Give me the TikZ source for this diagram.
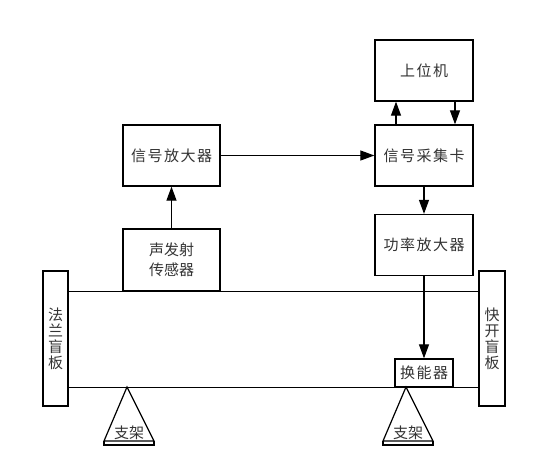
\documentclass[tikz,border=0pt]{standalone}
\usepackage{fontspec}
\setmainfont{Noto Sans CJK SC}[BoldFont={Noto Sans CJK SC}]
\usetikzlibrary{arrows.meta,calc}
\tikzset{
  x=1pt,y=-1pt,
  box/.style={draw=black,line width=1.3pt,fill=white,inner sep=0pt,minimum width=#1,text=black!80,font=\fontsize{15}{20}\selectfont,align=center},
  box/.default=98pt,
  arr/.style={draw=black,line width=1.2pt,-{Triangle[length=14pt,width=10pt]}},
  pipeline/.style={draw=black,line width=1.1pt},
  tri/.style={draw=black,line width=1.2pt,line join=miter},
  lbl/.style={inner sep=0pt,text=black!80,font=\fontsize{15}{20}\selectfont,align=center},
  vert/.style={font=\fontsize{15}{16}\selectfont},
}
\newcommand{\spc}{\hspace{1.5pt}}
\begin{document}
\begin{tikzpicture}
\useasboundingbox (0,0) rectangle (544,474);
% boxes
\node[box,minimum height=61pt] (pc) at (424,70.5) {上\spc 位\spc 机};
\node[box,minimum height=61pt] (daq) at (424,155.5) {信\spc 号\spc 采\spc 集\spc 卡};
\node[box,minimum height=61pt] (pa) at (424,245) {功\spc 率\spc 放\spc 大\spc 器};
\node[box=97pt,minimum height=61pt] (amp) at (171.5,155.5) {信\spc 号\spc 放\spc 大\spc 器};
\node[box=97pt,minimum height=62pt] (ae) at (171.5,260) {声发射\\传感器};
\node[box=25pt,minimum height=135pt,vert] (fl) at (55.5,338.5) {法\\兰\\盲\\板};
\node[box=26pt,minimum height=135pt,vert] (qk) at (492,338.5) {快\\开\\盲\\板};
\node[box=58pt,minimum height=28pt] (tr) at (424,373) {换\spc 能\spc 器};
% pipe
\draw[pipeline] (fl.east |- ae.south) -- (qk.west |- ae.south);
\draw[pipeline] (fl.east |- tr.south) -- (qk.west |- tr.south);
% connectors
\draw[arr] (ae.north) -- (amp.south);
\draw[arr] (amp.east |- daq.west) -- (daq.west);
\coordinate (upx) at (396,0);
\coordinate (dnx) at (455,0);
\draw[arr] (upx |- daq.north) -- (upx |- pc.south);
\draw[arr] (dnx |- pc.south) -- (dnx |- daq.north);
\draw[arr] (daq.south) -- (pa.north);
\draw[arr] (pa.south) -- (tr.north);
% supports
\coordinate (a1) at (127,387);
\coordinate (a2) at (406,387);
\draw[tri] (a1) -- ++(-23,54) -- ++(50,0) -- cycle;
\draw[tri] ($(a1)+(-23,54)$) -- ++(0,4) -- ++(50,0) -- ++(0,-4);
\draw[tri] (a2) -- ++(-23,54) -- ++(50,0) -- cycle;
\draw[tri] ($(a2)+(-23,54)$) -- ++(0,4) -- ++(50,0) -- ++(0,-4);
\node[lbl] (s1) at ($(a1)+(2,46)$) {支架};
\node[lbl] (s2) at ($(a2)+(2,46)$) {支架};
\end{tikzpicture}
\end{document}
